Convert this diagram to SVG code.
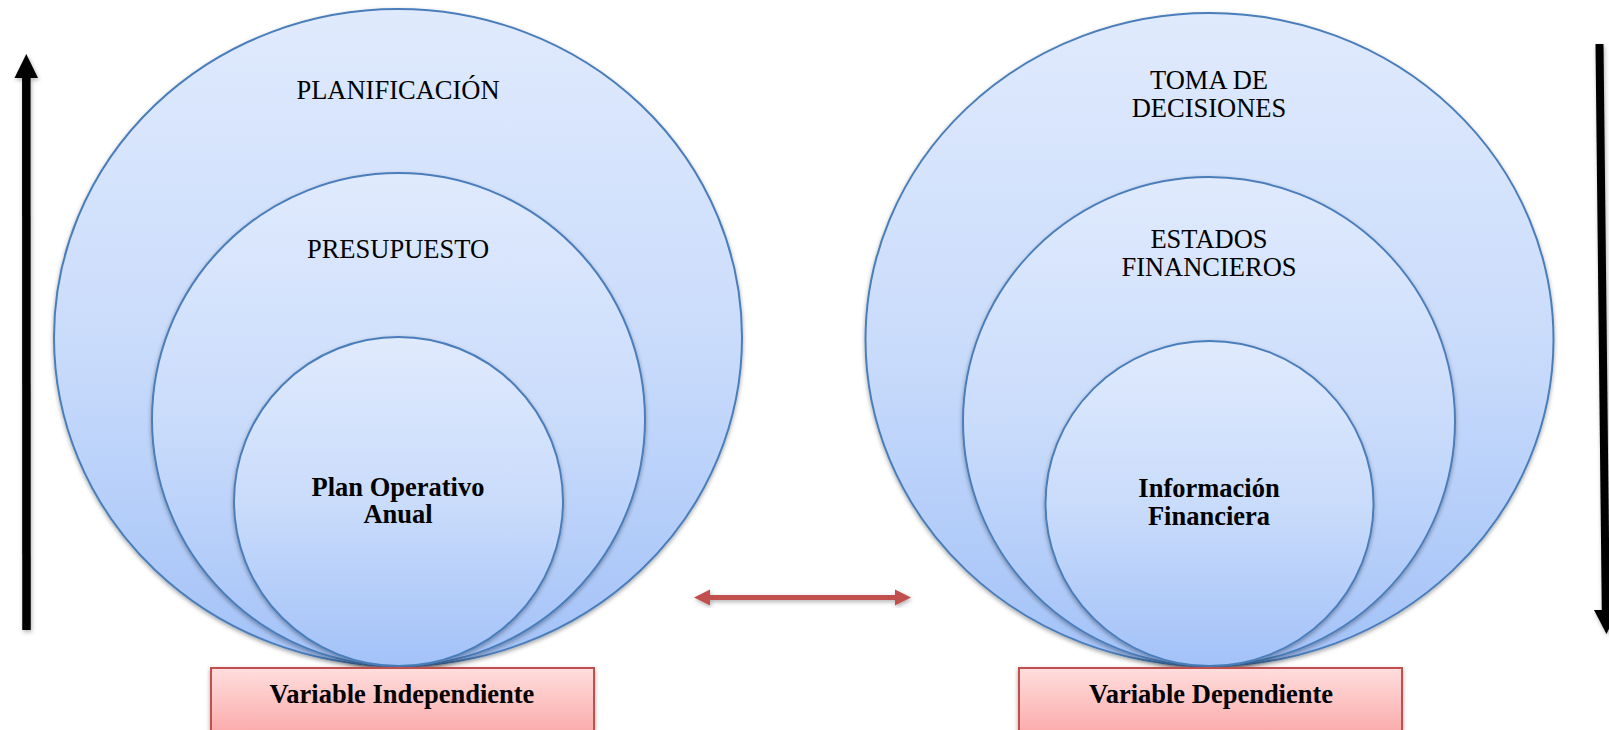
<svg xmlns="http://www.w3.org/2000/svg" width="1609" height="730" viewBox="0 0 1609 730">
  <defs>
    <linearGradient id="blueGrad" x1="0" y1="0" x2="0" y2="1">
      <stop offset="0" stop-color="#e0eafd"/>
      <stop offset="0.5" stop-color="#cadcfb"/>
      <stop offset="1" stop-color="#a3c2f8"/>
    </linearGradient>
    <linearGradient id="pinkGrad" x1="0" y1="0" x2="0" y2="1">
      <stop offset="0" stop-color="#ffdede"/>
      <stop offset="1" stop-color="#fbaaaa"/>
    </linearGradient>
    <filter id="shadow" x="-10%" y="-10%" width="120%" height="125%">
      <feDropShadow dx="0" dy="2" stdDeviation="2" flood-color="#000" flood-opacity="0.35"/>
    </filter>
    <filter id="arrowShadow" x="-50%" y="-10%" width="200%" height="120%">
      <feDropShadow dx="1" dy="2" stdDeviation="2" flood-color="#000" flood-opacity="0.3"/>
    </filter>
  </defs>
  <style>
    .circle { fill: url(#blueGrad); stroke: #4a7ebb; stroke-width: 2; filter: url(#shadow); }
    .box { fill: url(#pinkGrad); stroke: #c0504d; stroke-width: 2; filter: url(#shadow); }
    .reg { font-family: "Liberation Serif", "Times New Roman", serif; font-size: 26.5px; fill: #000; text-anchor: middle; }
    .bold { font-family: "Liberation Serif", "Times New Roman", serif; font-size: 26.5px; font-weight: bold; fill: #000; text-anchor: middle; }
  </style>

  <!-- Left set -->
  <g id="planificacion">
    <ellipse class="circle" cx="398" cy="337.5" rx="344" ry="328.5"/>
    <text class="reg" x="398" y="99">PLANIFICACIÓN</text>
  </g>
  <g id="presupuesto">
    <ellipse class="circle" cx="398.5" cy="419.5" rx="246.5" ry="246.5"/>
    <text class="reg" x="398" y="258">PRESUPUESTO</text>
  </g>
  <g id="plan-operativo">
    <ellipse class="circle" cx="398.5" cy="501.5" rx="164.5" ry="164.5"/>
    <text class="bold" x="398" y="495.5">Plan Operativo</text>
    <text class="bold" x="398" y="523">Anual</text>
  </g>
  <g id="variable-independiente">
    <rect class="box" x="211" y="668" width="383" height="66"/>
    <text class="bold" x="402" y="703">Variable Independiente</text>
  </g>

  <!-- Right set -->
  <g id="toma-decisiones">
    <ellipse class="circle" cx="1209.5" cy="339.5" rx="344" ry="326.5"/>
    <text class="reg" x="1209" y="89">TOMA DE</text>
    <text class="reg" x="1209" y="117">DECISIONES</text>
  </g>
  <g id="estados-financieros">
    <ellipse class="circle" cx="1209" cy="421.5" rx="246" ry="244.5"/>
    <text class="reg" x="1209" y="248">ESTADOS</text>
    <text class="reg" x="1209" y="276">FINANCIEROS</text>
  </g>
  <g id="informacion-financiera">
    <ellipse class="circle" cx="1209.5" cy="503.5" rx="164" ry="162.5"/>
    <text class="bold" x="1209" y="497">Información</text>
    <text class="bold" x="1209" y="524.5">Financiera</text>
  </g>
  <g id="variable-dependiente">
    <rect class="box" x="1019" y="668" width="383" height="66"/>
    <text class="bold" x="1211" y="703">Variable Dependiente</text>
  </g>

  <!-- Connectors -->
  <g id="connectors">
    <g filter="url(#arrowShadow)">
      <line x1="26.5" y1="630" x2="26.3" y2="76" stroke="#000" stroke-width="8.5"/>
      <polygon points="26.3,54 38,78 14.5,78" fill="#000"/>
    </g>
    <g filter="url(#arrowShadow)">
      <line x1="1599.5" y1="44" x2="1605.8" y2="612" stroke="#000" stroke-width="8"/>
      <polygon points="1606.5,634 1594,610 1618,610" fill="#000"/>
    </g>
    <g filter="url(#arrowShadow)">
      <line x1="709" y1="597.5" x2="896" y2="597.5" stroke="#c0504d" stroke-width="5"/>
      <polygon points="694,597.5 710,589.5 710,605.5" fill="#c0504d"/>
      <polygon points="911,597.5 895,589.5 895,605.5" fill="#c0504d"/>
    </g>
  </g>
</svg>
